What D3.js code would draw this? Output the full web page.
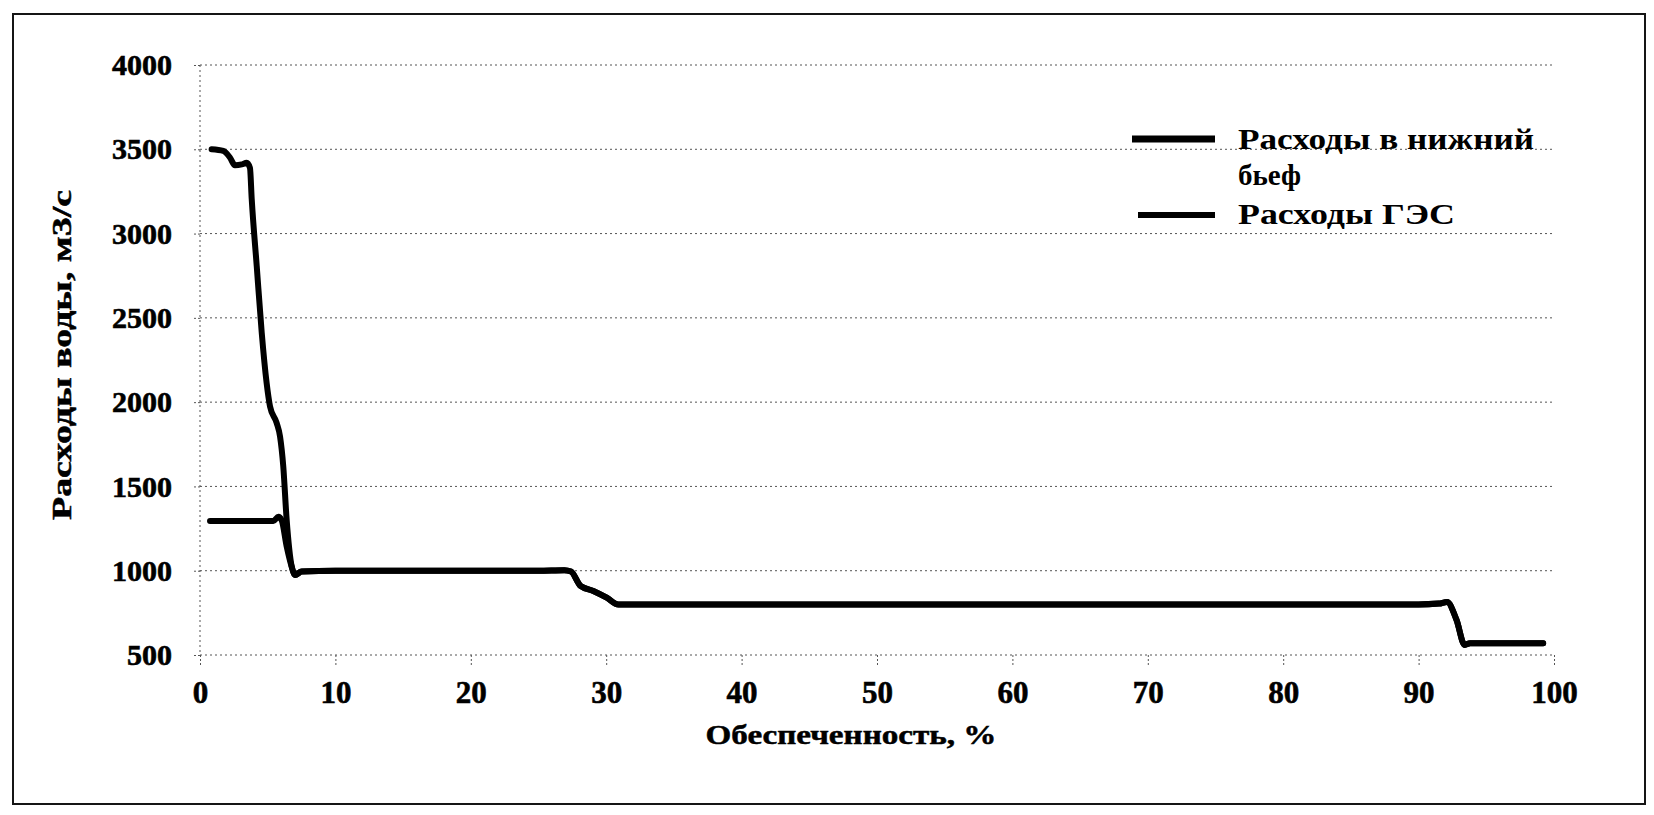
<!DOCTYPE html>
<html>
<head>
<meta charset="utf-8">
<script src="https://cdn.jsdelivr.net/npm/d3@7"></script>
<style>
  body { margin: 0; background: #fff; }
  text { font-family: "Liberation Serif", "Times New Roman", serif; fill: #000; }
</style>
</head>
<body>
<div class="chart-container"></div>
<script>
// обеспеченность, % и расходы, м3/с
var headX_nb = [0.86, 1.72, 2.22, 2.58, 3.08, 3.45, 3.69, 3.82, 4.19, 4.56, 4.92, 5.17, 5.66, 5.91, 6.15, 6.4, 6.77, 7.02, 7.51]
var headQ_nb = [3500, 3490, 3450, 3405, 3410, 3420, 3390, 3204, 2807, 2411, 2114, 1975, 1877, 1797, 1619, 1302, 1025, 975, 995]
var headX_ges = [0.74, 2, 3, 4, 5.42, 5.79, 6.03, 6.4, 6.77, 7.02, 7.51]
var headQ_ges = [1295, 1295, 1295, 1295, 1295, 1320, 1300, 1145, 1025, 975, 995]
// общий участок обеих кривых
var tailX = [10, 15, 20, 25, 26.9, 27.4, 28.1, 29.05, 30.04, 30.9, 32, 40, 50, 60, 70, 80, 90, 91.5, 92.1, 92.8, 93.4, 93.8, 96, 99.2]
var tailQ = [1000, 1000, 1000, 1000, 1003, 995, 910, 880, 840, 800, 800, 800, 800, 800, 800, 800, 800, 805, 815, 708, 560, 570, 570, 570]

var xTicks = [0, 10, 20, 30, 40, 50, 60, 70, 80, 90, 100]
var yTicks = [500, 1000, 1500, 2000, 2500, 3000, 3500, 4000]
var seriesNames = ['Расходы в нижний', 'бьеф', 'Расходы ГЭС']

var W = 1654, H = 815
var plotL = 200, plotR = 1554, plotT = 65, plotB = 655

var svg = d3.select(".chart-container").append("svg").attr('width', W).attr('height', H)

// рамка
svg.append("rect").attr('x', 13).attr('y', 14).attr('width', 1632).attr('height', 790)
   .attr('fill', '#fff').attr('stroke', '#151515').attr('stroke-width', 2)

var x = d3.scaleLinear().domain([0, 100]).range([plotL, plotR])
var y = d3.scaleLinear().domain([500, 4000]).range([plotB, plotT])

// сетка
svg.append("g").selectAll("line").data(yTicks).enter().append("line")
   .attr('x1', plotL).attr('x2', plotR)
   .attr('y1', function(d) { return y(d) }).attr('y2', function(d) { return y(d) })
   .attr('stroke', '#555').attr('stroke-width', 1).attr('stroke-dasharray', '2,3')
svg.append("line").attr('x1', plotL).attr('x2', plotL).attr('y1', plotT).attr('y2', plotB)
   .attr('stroke', '#555').attr('stroke-width', 1).attr('stroke-dasharray', '2,3')

var yAxis = svg.append("g").attr("transform", "translate(" + plotL + ",0)")
   .call(d3.axisLeft(y).tickValues(yTicks).tickSize(8).tickPadding(20).tickFormat(d3.format("d")))
var xAxis = svg.append("g").attr("transform", "translate(0," + plotB + ")")
   .call(d3.axisBottom(x).tickValues(xTicks).tickSize(10).tickPadding(16).tickFormat(d3.format("d")))

svg.selectAll(".domain").remove()
svg.selectAll(".tick line").attr('stroke', '#555').attr('stroke-dasharray', '2,2')
svg.selectAll(".tick text").style("font-weight", "bold").style("font-family", '"Liberation Serif", serif')
   .attr('stroke', '#000').attr('stroke-width', 0.6)
yAxis.selectAll("text").style("font-size", "30px")
xAxis.selectAll("text").style("font-size", "31px")

// подписи осей
svg.append("text").attr('x', 851).attr('y', 744).attr('text-anchor', 'middle')
   .attr('textLength', 291).attr('lengthAdjust', 'spacingAndGlyphs')
   .attr('stroke', '#000').attr('stroke-width', 0.5)
   .style("font-size", "28px").style("font-weight", "bold").text("Обеспеченность, %")
svg.append("text").attr('transform', 'translate(71,355) rotate(-90)').attr('text-anchor', 'middle')
   .attr('textLength', 330).attr('lengthAdjust', 'spacingAndGlyphs')
   .attr('stroke', '#000').attr('stroke-width', 0.5)
   .style("font-size", "28px").style("font-weight", "bold").text("Расходы воды, м3/с")

var line = d3.line()
   .x(function(d) { return x(d[0]) })
   .y(function(d) { return y(d[1]) })
   .curve(d3.curveMonotoneX)

var dataNb = d3.zip(headX_nb.concat(tailX), headQ_nb.concat(tailQ))
var dataGes = d3.zip(headX_ges.concat(tailX), headQ_ges.concat(tailQ))

svg.append("path").datum(dataGes).attr("d", line)
   .attr('fill', 'none').attr('stroke', '#000').attr('stroke-width', 6)
   .attr('stroke-linejoin', 'round').attr('stroke-linecap', 'round')
svg.append("path").datum(dataNb).attr("d", line)
   .attr('fill', 'none').attr('stroke', '#000').attr('stroke-width', 6)
   .attr('stroke-linejoin', 'round').attr('stroke-linecap', 'round')

// легенда
var legend = svg.append("g").attr("class", "legend")
legend.append("line").attr('x1', 1132).attr('x2', 1215).attr('y1', 139).attr('y2', 139)
   .attr('stroke', '#000').attr('stroke-width', 7)
legend.append("line").attr('x1', 1138).attr('x2', 1215).attr('y1', 215).attr('y2', 215)
   .attr('stroke', '#000').attr('stroke-width', 6)
legend.append("text").attr('x', 1238).attr('y', 149).attr('textLength', 296).attr('lengthAdjust', 'spacingAndGlyphs')
   .style("font-size", "29px").style("font-weight", "bold").text(seriesNames[0])
legend.append("text").attr('x', 1238).attr('y', 185)
   .style("font-size", "29px").style("font-weight", "bold").text(seriesNames[1])
legend.append("text").attr('x', 1238).attr('y', 224).attr('textLength', 217).attr('lengthAdjust', 'spacingAndGlyphs')
   .style("font-size", "29px").style("font-weight", "bold").text(seriesNames[2])
</script>
</body>
</html>
